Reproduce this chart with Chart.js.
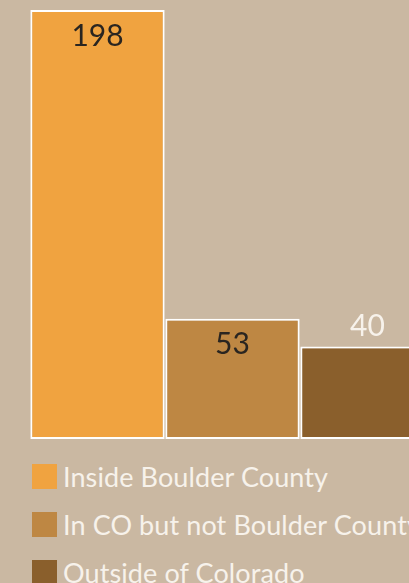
<!DOCTYPE html>
<html>
<head>
<meta charset="utf-8">
<script src="https://cdn.jsdelivr.net/npm/chart.js@4.4.0/dist/chart.umd.min.js"></script>
<style>
  html, body { margin: 0; padding: 0; background: #cab8a2; overflow: hidden; width: 409px; height: 583px; }
  #wrap { position: absolute; left: 0; top: 0; width: 435px; height: 440px; }
  #legend { position: absolute; left: 32px; top: 464px; font-family: Lato, sans-serif; font-size: 27px; letter-spacing: 0.1px; color: #f7f2eb; white-space: nowrap; }
  .item { display: flex; align-items: center; height: 25px; margin-bottom: 23px; }
  .box { width: 25px; height: 25px; margin-right: 6px; flex: none; }
</style>
</head>
<body>
<div id="wrap"><canvas id="originChart"></canvas></div>
<div id="legend"></div>
<script>
// data
const categories = ['Inside Boulder County', 'In CO but not Boulder County', 'Outside of Colorado'];
const counts = [198, 53, 40];

// styles
const barColors = ['#f0a340', '#be8743', '#8a5f2c'];
const labelColors = ['#2a2520', '#2a2520', '#f7f2eb'];
const labelInside = [true, true, false];

const valueLabels = {
    id: 'valueLabels',
    afterDatasetsDraw(chart) {
        const ctx = chart.ctx;
        const meta = chart.getDatasetMeta(0);
        ctx.save();
        ctx.font = '30px Lato, sans-serif';
        ctx.textAlign = 'center';
        ctx.textBaseline = 'middle';
        meta.data.forEach(function (bar, i) {
            ctx.fillStyle = labelColors[i];
            const y = labelInside[i] ? bar.y + 26 : bar.y - 20;
            ctx.fillText(String(counts[i]), bar.x, y);
        });
        ctx.restore();
    }
};

new Chart(document.getElementById('originChart'), {
    type: 'bar',
    data: {
        labels: categories,
        datasets: [{
            data: counts,
            backgroundColor: barColors,
            borderColor: '#ffffff',
            borderWidth: 2,
            borderSkipped: false,
            base: -3.5,
            categoryPercentage: 1,
            barPercentage: 0.995
        }]
    },
    options: {
        responsive: true,
        maintainAspectRatio: false,
        animation: false,
        layout: { padding: { left: 30, top: 10, right: 0, bottom: 1 } },
        plugins: { legend: { display: false }, tooltip: { enabled: false } },
        scales: {
            x: { display: false },
            y: { display: false, min: -3.5, max: 198 }
        }
    },
    plugins: [valueLabels]
});

// legend
const legend = document.getElementById('legend');
categories.forEach(function (name, i) {
    const item = document.createElement('div');
    item.className = 'item';
    const box = document.createElement('span');
    box.className = 'box';
    box.style.background = barColors[i];
    const txt = document.createElement('span');
    txt.textContent = name;
    item.appendChild(box);
    item.appendChild(txt);
    legend.appendChild(item);
});
</script>
</body>
</html>
